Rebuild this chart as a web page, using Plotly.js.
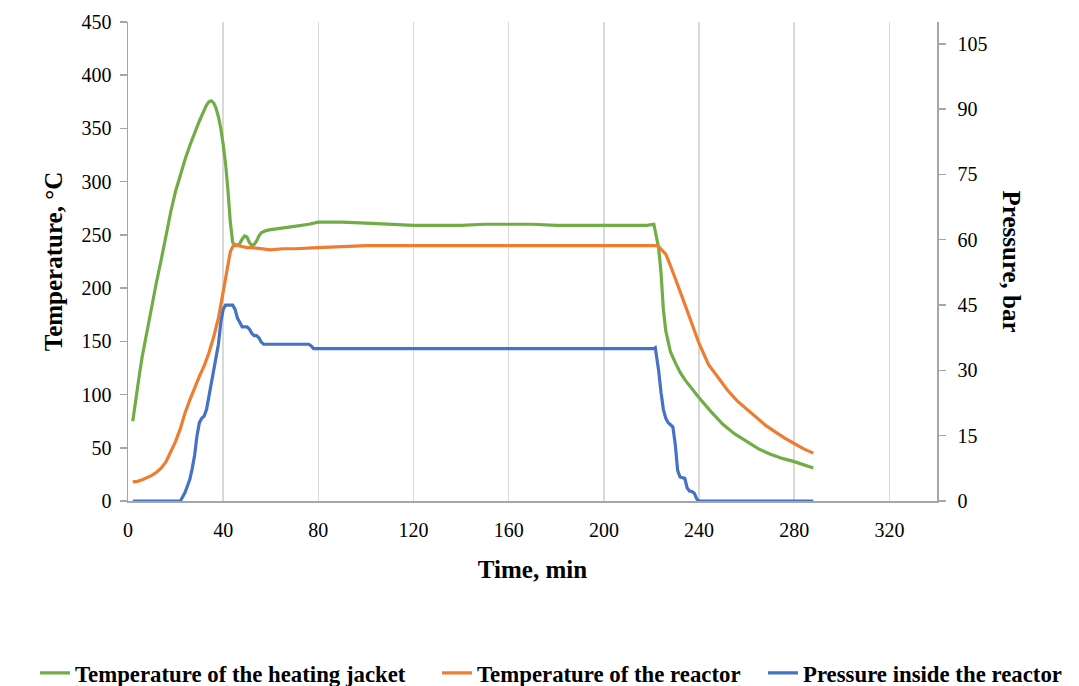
<!DOCTYPE html>
<html>
<head>
<meta charset="utf-8">
<script src="https://cdn.plot.ly/plotly-3.0.1.min.js"></script>
<style>html,body{margin:0;padding:0;background:#fff;}#chart{width:1079px;height:686px;}</style>
</head>
<body>
<div id="chart"></div>
<script>
// Heating jacket temperature (°C) vs time (min)
const jacketTime = [2,3,4,5,6,8,10,12,14,16,18,20,22,24,26,28,30,32,33,34,35,36,37,38,39,40,41,42,43,44,45,46,47,48,49,50,51,52,53,54,55,56,58,60,64,70,76,80,84,90,100,110,120,130,140,150,160,170,180,190,200,210,218,221,222,223,224,225,226,227,228,230,232,234,236,240,245,250,255,260,265,270,275,280,285,288];
const jacketTemp = [75,92,108,122,136,160,184,206,227,250,272,291,307,321,334,346,357,367,372,375,376,374,369,361,350,335,317,292,262,243,240,240,242,246,249,248,243,240,241,244,249,252,254,255,256,258,260,262,262,262,261,260,259,259,259,260,260,260,259,259,259,259,259,260,250,238,215,180,160,148,140,130,121,114,108,97,84,72,63,56,49,44,40,37,33,31];

// Reactor temperature (°C) vs time (min)
const reactorTime = [2,4,6,8,10,12,14,16,18,20,22,24,26,28,30,32,34,36,37,38,39,40,41,42,43,44,45,46,48,50,52,55,60,65,70,80,90,100,120,160,200,220,222,223,224,226,228,230,232,234,236,238,240,244,248,252,256,260,264,268,272,276,280,284,288];
const reactorTemp = [18,18.5,20,22,24,27,31,37,46,56,68,83,95,107,117,127,139,154,162,172,184,196,210,224,234,239,241,240,239,238,238,237,236,237,237,238,239,240,240,240,240,240,240,239,237,232,221,210,197,185,173,160,148,128,116,104,94,86,78,71,65,59,54,49,45];

// Pressure inside the reactor (bar) vs time (min)
const pressureTime = [2,22,23,24,25,26,27,28,29,30,31,32,33,34,35,36,37,38,39,40,41,42,43,44,45,46,47,48,49,50,51,52,53,54,55,56,57,60,70,76,77,78,100,150,200,221,221.6,222,223,224,225,226,227,228,229,230,231,232,233,234,235,236,237,238,239,240,288];
const pressureBar = [0,0,1,2,3.5,5,7.5,10.5,15,18,19,19.5,21,24,27,29,32,36,41,44,45,45,45,45,44,42,41,40,40,40,39.5,38.5,38,38,37.5,36.5,36,36,36,36,35.6,35,35,35,35,35,35.2,34,30,25,21,19,18,17.5,17,13,7,5.5,5.3,5.2,3,2.3,2.2,1.8,0.5,0,0];

const seriesNames = ['Temperature of the heating jacket','Temperature of the reactor','Pressure inside the reactor'];
const xTicks = [0,40,80,120,160,200,240,280,320];
const yTicks = [0,50,100,150,200,250,300,350,400,450];
const y2Ticks = [0,15,30,45,60,75,90,105];

const FONT = 'Liberation Serif, serif';
const axisGray = '#a6a6a6';

const traces = [
  {x: jacketTime, y: jacketTemp, name: seriesNames[0], type: 'scatter', mode: 'lines', legend: 'legend',
   line: {color: '#70ad47', width: 3.2}},
  {x: reactorTime, y: reactorTemp, name: seriesNames[1], type: 'scatter', mode: 'lines', legend: 'legend2',
   line: {color: '#ed7d31', width: 3.2}},
  {x: pressureTime, y: pressureBar, name: seriesNames[2], type: 'scatter', mode: 'lines', yaxis: 'y2', legend: 'legend3',
   line: {color: '#4472c4', width: 3.2}}
];

function legendAt(xFrac) {
  return {orientation: 'h', xref: 'container', yref: 'container', x: xFrac, xanchor: 'left',
          y: 0.019, yanchor: 'middle', bgcolor: 'rgba(0,0,0,0)',
          font: {family: FONT, size: 22.8, color: '#000', weight: 'bold'}, itemwidth: 30};
}

const layout = {
  width: 1079, height: 686,
  margin: {l: 128, r: 142, t: 22, b: 185},
  paper_bgcolor: '#fff', plot_bgcolor: '#fff',
  font: {family: FONT, size: 20, color: '#000'},
  showlegend: true,
  legend: legendAt(0.0324),
  legend2: legendAt(0.4050),
  legend3: legendAt(0.7071),
  xaxis: {range: [0, 340], tickvals: xTicks, ticktext: xTicks.map(String),
          showgrid: true, gridcolor: '#d9d9d9', gridwidth: 1.5, zeroline: false,
          showline: true, linecolor: axisGray, linewidth: 1.5, ticks: '', ticklabelstandoff: 10,
          tickfont: {family: FONT, size: 20},
          title: {text: '<b>Time, min</b>', font: {family: FONT, size: 25}, standoff: 21}},
  yaxis: {range: [0, 450], tickvals: yTicks, ticktext: yTicks.map(String),
          showgrid: false, zeroline: false, showline: true, linecolor: axisGray, linewidth: 1.5,
          ticks: 'outside', ticklen: 7, tickcolor: axisGray, tickwidth: 1.5, ticklabelstandoff: 4,
          tickfont: {family: FONT, size: 20},
          title: {text: '<b>Temperature, °C</b>', font: {family: FONT, size: 25}, standoff: 12}},
  yaxis2: {range: [0, 110], tickvals: y2Ticks, ticktext: y2Ticks.map(String), overlaying: 'y', side: 'right',
           showgrid: false, zeroline: false, showline: true, linecolor: axisGray, linewidth: 1.5,
           ticks: 'outside', ticklen: 7, tickcolor: axisGray, tickwidth: 1.5, ticklabelstandoff: 8,
           tickfont: {family: FONT, size: 20}},
  annotations: [
    {text: '<b>Pressure, bar</b>', xref: 'paper', yref: 'paper', x: 1.0927, y: 0.5,
     xanchor: 'center', yanchor: 'middle', textangle: 90, showarrow: false,
     font: {family: FONT, size: 25, color: '#000'}}
  ]
};

Plotly.newPlot('chart', traces, layout, {displayModeBar: false, staticPlot: true});
</script>
</body>
</html>
